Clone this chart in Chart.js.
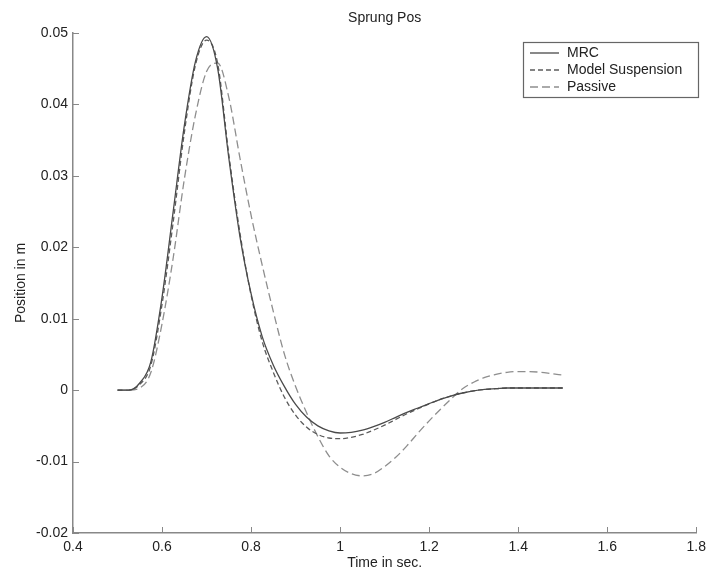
<!DOCTYPE html>
<html>
<head>
<meta charset="utf-8">
<title>Sprung Pos</title>
<script src="https://cdn.jsdelivr.net/npm/chart.js@4.4.1/dist/chart.umd.min.js"></script>
<style>
    html, body { margin: 0; padding: 0; background: #fff; }
    #wrap { width: 712px; height: 572px; }
</style>
</head>
<body>
<div id="wrap"><canvas id="chart" width="712" height="572"></canvas></div>
<script>
// Sprung mass position vs time
var timeSec = [0.50, 0.525, 0.55, 0.575, 0.60, 0.625, 0.65, 0.675, 0.70, 0.725,
    0.75, 0.775, 0.80, 0.825, 0.85, 0.875, 0.90, 0.925, 0.95, 0.975,
    1.00, 1.025, 1.05, 1.075, 1.10, 1.125, 1.15, 1.175, 1.20, 1.225,
    1.25, 1.275, 1.30, 1.325, 1.35, 1.375, 1.40, 1.425, 1.45, 1.475, 1.50];

var mrcPos = [0, 0, 0.001, 0.004, 0.013, 0.025, 0.037, 0.046, 0.0495, 0.045,
    0.0325, 0.0215, 0.0135, 0.0075, 0.0035, 0.0005, -0.002, -0.0038, -0.005, -0.0057,
    -0.006, -0.0059, -0.0056, -0.0051, -0.0045, -0.0038, -0.0031, -0.0025, -0.0019, -0.0013,
    -0.0008, -0.0004, -0.0001, 0.0001, 0.0002, 0.0003, 0.0003, 0.0003, 0.0003, 0.0003, 0.0003];

var modelPos = [0, 0, 0.0008, 0.0035, 0.012, 0.0235, 0.036, 0.0455, 0.049, 0.0457,
    0.033, 0.022, 0.0133, 0.0068, 0.0025, -0.001, -0.0035, -0.0052, -0.0062, -0.0067,
    -0.0068, -0.0066, -0.0062, -0.0056, -0.0049, -0.0041, -0.0033, -0.0026, -0.0019, -0.0013,
    -0.0008, -0.0004, -0.0001, 0.0001, 0.0002, 0.0003, 0.0003, 0.0003, 0.0003, 0.0003, 0.0003];

var passivePos = [0, 0, 0.0003, 0.0025, 0.0093, 0.0185, 0.0295, 0.0385, 0.0446, 0.0458,
    0.041, 0.0325, 0.0245, 0.0175, 0.011, 0.005, 0.0005, -0.0032, -0.0065, -0.0092,
    -0.0108, -0.0117, -0.012, -0.0117, -0.0107, -0.0094, -0.0078, -0.006, -0.0043, -0.0027,
    -0.0012, 0.0002, 0.0011, 0.0018, 0.0022, 0.0025, 0.0026, 0.0026, 0.0025, 0.0023, 0.0021];

var seriesNames = ['MRC', 'Model Suspension', 'Passive'];

var xTicks = [0.4, 0.6, 0.8, 1.0, 1.2, 1.4, 1.6, 1.8];
var yTicks = [-0.02, -0.01, 0, 0.01, 0.02, 0.03, 0.04, 0.05];

var FONT = '"Liberation Sans", Arial, Helvetica, sans-serif';

function toPoints(xs, ys) {
    return xs.map(function (x, i) { return { x: x, y: ys[i] }; });
}

function fmt(v) {
    return String(Number(v.toFixed(3)));
}

// Inward tick marks, title and boxed legend (MATLAB look)
var matlabDecor = {
    id: 'matlabDecor',
    afterDraw: function (chart) {
        var ctx = chart.ctx;
        var area = chart.chartArea;
        var xs = chart.scales.x;
        var ys = chart.scales.y;

        ctx.save();
        ctx.strokeStyle = '#888';
        ctx.lineWidth = 1;
        ctx.beginPath();
        xTicks.forEach(function (v) {
            var px = Math.round(xs.getPixelForValue(v)) + 0.5;
            ctx.moveTo(px, area.bottom);
            ctx.lineTo(px, area.bottom - 6);
        });
        yTicks.forEach(function (v) {
            var py = Math.round(ys.getPixelForValue(v)) + 0.5;
            ctx.moveTo(area.left, py);
            ctx.lineTo(area.left + 6, py);
        });
        ctx.stroke();

        // title
        ctx.fillStyle = '#222';
        ctx.font = '14px ' + FONT;
        ctx.textAlign = 'center';
        ctx.textBaseline = 'middle';
        ctx.fillText('Sprung Pos', (area.left + area.right) / 2, 18);

        // legend
        var lx = 523, ly = 42, lw = 175, lh = 55;
        ctx.fillStyle = '#fff';
        ctx.fillRect(lx, ly, lw, lh);
        ctx.strokeStyle = '#666';
        ctx.lineWidth = 1.2;
        ctx.strokeRect(lx + 0.5, ly + 0.5, lw, lh);

        chart.data.datasets.forEach(function (ds, i) {
            var rowY = ly + 11 + i * 17;
            ctx.save();
            ctx.strokeStyle = ds.borderColor;
            ctx.lineWidth = ds.borderWidth;
            ctx.setLineDash(ds.borderDash || []);
            ctx.beginPath();
            ctx.moveTo(lx + 7, rowY);
            ctx.lineTo(lx + 36, rowY);
            ctx.stroke();
            ctx.restore();
            ctx.fillStyle = '#222';
            ctx.textAlign = 'left';
            ctx.fillText(ds.label, lx + 44, rowY);
        });
        ctx.restore();
    }
};

var ctx = document.getElementById('chart').getContext('2d');
new Chart(ctx, {
    type: 'line',
    data: {
        datasets: [{
            label: seriesNames[0],
            data: toPoints(timeSec, mrcPos),
            borderColor: '#4a4a4a',
            borderWidth: 1.3,
            pointRadius: 0,
            cubicInterpolationMode: 'monotone',
            fill: false
        }, {
            label: seriesNames[1],
            data: toPoints(timeSec, modelPos),
            borderColor: '#5c5c5c',
            borderWidth: 1.3,
            borderDash: [5, 3],
            pointRadius: 0,
            cubicInterpolationMode: 'monotone',
            fill: false
        }, {
            label: seriesNames[2],
            data: toPoints(timeSec, passivePos),
            borderColor: '#8e8e8e',
            borderWidth: 1.3,
            borderDash: [8, 4],
            pointRadius: 0,
            cubicInterpolationMode: 'monotone',
            fill: false
        }]
    },
    options: {
        responsive: false,
        animation: false,
        layout: { padding: { top: 33, right: 9, left: 0, bottom: 0 } },
        plugins: {
            legend: { display: false },
            tooltip: { enabled: false },
            title: { display: false }
        },
        scales: {
            x: {
                type: 'linear',
                min: 0.4,
                max: 1.8,
                grid: { display: false, drawTicks: false },
                border: { display: true, color: '#888', width: 1.5 },
                afterBuildTicks: function (scale) {
                    scale.ticks = xTicks.map(function (v) { return { value: v }; });
                },
                afterFit: function (scale) { scale.height = 39; },
                ticks: {
                    padding: 6,
                    color: '#222',
                    font: { family: FONT, size: 14 },
                    maxRotation: 0,
                    autoSkip: false,
                    callback: function (v) { return fmt(v); }
                },
                title: {
                    display: true,
                    text: 'Time in sec.',
                    color: '#222',
                    font: { family: FONT, size: 14 },
                    padding: { top: 0, bottom: 0 }
                }
            },
            y: {
                type: 'linear',
                min: -0.02,
                max: 0.05,
                grid: { display: false, drawTicks: false },
                border: { display: true, color: '#888', width: 1.5 },
                afterBuildTicks: function (scale) {
                    scale.ticks = yTicks.map(function (v) { return { value: v }; });
                },
                afterFit: function (scale) { scale.width = 73; },
                ticks: {
                    padding: 5,
                    color: '#222',
                    font: { family: FONT, size: 14 },
                    autoSkip: false,
                    callback: function (v) { return fmt(v); }
                },
                title: {
                    display: true,
                    text: 'Position in m',
                    color: '#222',
                    font: { family: FONT, size: 14 },
                    padding: { top: 13, bottom: 0 }
                }
            }
        }
    },
    plugins: [matlabDecor]
});
</script>
</body>
</html>
